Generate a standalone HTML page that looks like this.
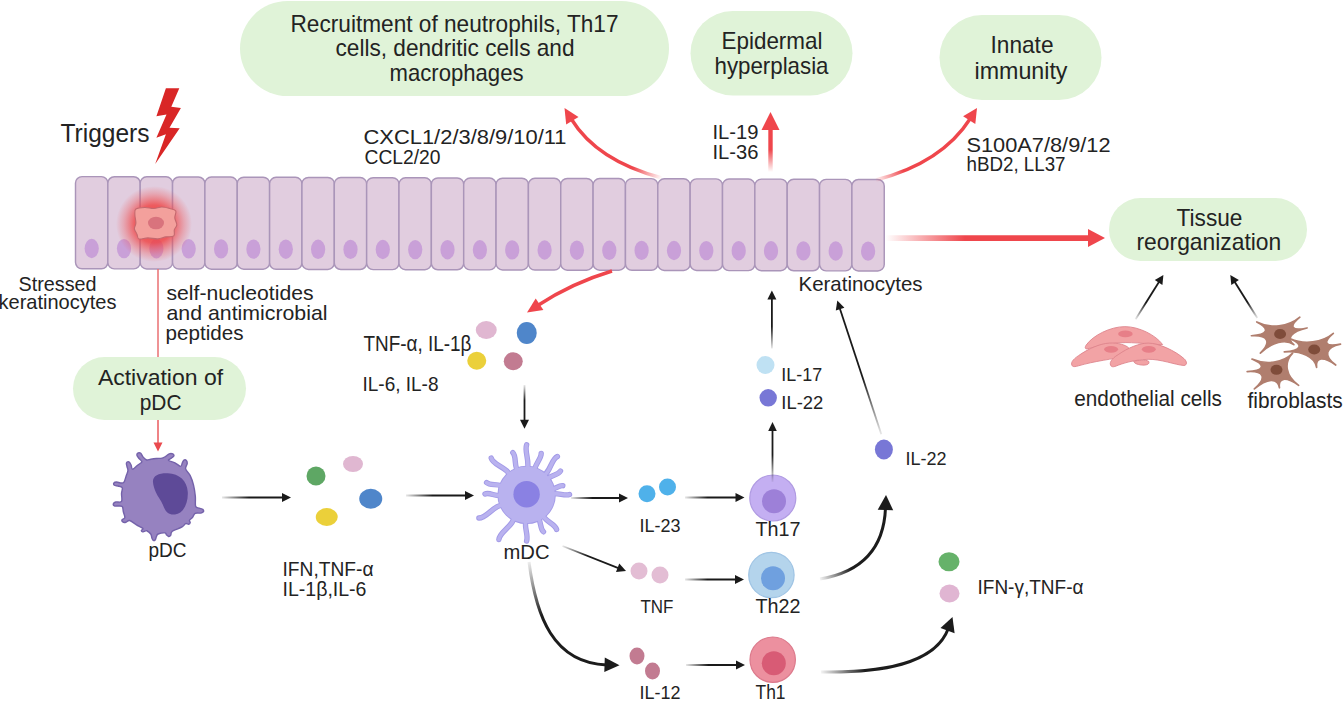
<!DOCTYPE html>
<html><head><meta charset="utf-8"><title>Psoriasis pathway</title>
<style>html,body{margin:0;padding:0;background:#fff;width:1344px;height:702px;overflow:hidden}svg{display:block}text{font-family:"Liberation Sans", sans-serif}</style>
</head><body>
<svg width="1344" height="702" viewBox="0 0 1344 702" font-family='"Liberation Sans", sans-serif'><defs><radialGradient id="glow"><stop offset="0" stop-color="#f03838" stop-opacity="1"/><stop offset="0.5" stop-color="#f04040" stop-opacity="0.8"/><stop offset="0.8" stop-color="#f05050" stop-opacity="0.3"/><stop offset="1" stop-color="#f05050" stop-opacity="0"/></radialGradient><linearGradient id="g1" gradientUnits="userSpaceOnUse" x1="662" y1="178" x2="600" y2="150"><stop offset="0" stop-color="#ef464c" stop-opacity="0"/><stop offset="0.45" stop-color="#ef464c" stop-opacity="1"/><stop offset="1" stop-color="#ef464c" stop-opacity="1"/></linearGradient><linearGradient id="g2" gradientUnits="userSpaceOnUse" x1="770.5" y1="172" x2="770.5" y2="140"><stop offset="0" stop-color="#ef464c" stop-opacity="0"/><stop offset="0.7" stop-color="#ef464c" stop-opacity="1"/><stop offset="1" stop-color="#ef464c" stop-opacity="1"/></linearGradient><linearGradient id="g3" gradientUnits="userSpaceOnUse" x1="874" y1="179" x2="930" y2="155"><stop offset="0" stop-color="#ef464c" stop-opacity="0"/><stop offset="0.5" stop-color="#ef464c" stop-opacity="1"/><stop offset="1" stop-color="#ef464c" stop-opacity="1"/></linearGradient><linearGradient id="g4" gradientUnits="userSpaceOnUse" x1="886" y1="238" x2="965" y2="238"><stop offset="0" stop-color="#ef464c" stop-opacity="0"/><stop offset="1" stop-color="#ef464c" stop-opacity="1"/></linearGradient><linearGradient id="g5" gradientUnits="userSpaceOnUse" x1="222" y1="497.5" x2="282.0" y2="497.5"><stop offset="0" stop-color="#1a1a1a" stop-opacity="0.1"/><stop offset="0.45" stop-color="#1a1a1a" stop-opacity="1"/><stop offset="1" stop-color="#1a1a1a" stop-opacity="1"/></linearGradient><linearGradient id="g6" gradientUnits="userSpaceOnUse" x1="406" y1="495.5" x2="465.0" y2="495.5"><stop offset="0" stop-color="#1a1a1a" stop-opacity="0.1"/><stop offset="0.45" stop-color="#1a1a1a" stop-opacity="1"/><stop offset="1" stop-color="#1a1a1a" stop-opacity="1"/></linearGradient><linearGradient id="g7" gradientUnits="userSpaceOnUse" x1="524.5" y1="385" x2="524.5" y2="419.75"><stop offset="0" stop-color="#1a1a1a" stop-opacity="0.1"/><stop offset="0.45" stop-color="#1a1a1a" stop-opacity="1"/><stop offset="1" stop-color="#1a1a1a" stop-opacity="1"/></linearGradient><linearGradient id="g8" gradientUnits="userSpaceOnUse" x1="571" y1="498" x2="619.0" y2="498.0"><stop offset="0" stop-color="#1a1a1a" stop-opacity="0.1"/><stop offset="0.45" stop-color="#1a1a1a" stop-opacity="1"/><stop offset="1" stop-color="#1a1a1a" stop-opacity="1"/></linearGradient><linearGradient id="g9" gradientUnits="userSpaceOnUse" x1="685" y1="497.5" x2="735.5" y2="497.5"><stop offset="0" stop-color="#1a1a1a" stop-opacity="0.1"/><stop offset="0.45" stop-color="#1a1a1a" stop-opacity="1"/><stop offset="1" stop-color="#1a1a1a" stop-opacity="1"/></linearGradient><linearGradient id="g10" gradientUnits="userSpaceOnUse" x1="562.5" y1="546" x2="617.6256432302473" y2="567.7030091457667"><stop offset="0" stop-color="#1a1a1a" stop-opacity="0.1"/><stop offset="0.45" stop-color="#1a1a1a" stop-opacity="1"/><stop offset="1" stop-color="#1a1a1a" stop-opacity="1"/></linearGradient><linearGradient id="g11" gradientUnits="userSpaceOnUse" x1="685" y1="579.5" x2="735.0" y2="579.5"><stop offset="0" stop-color="#1a1a1a" stop-opacity="0.1"/><stop offset="0.45" stop-color="#1a1a1a" stop-opacity="1"/><stop offset="1" stop-color="#1a1a1a" stop-opacity="1"/></linearGradient><linearGradient id="g12" gradientUnits="userSpaceOnUse" x1="686" y1="665" x2="736.0" y2="665.0"><stop offset="0" stop-color="#1a1a1a" stop-opacity="0.1"/><stop offset="0.45" stop-color="#1a1a1a" stop-opacity="1"/><stop offset="1" stop-color="#1a1a1a" stop-opacity="1"/></linearGradient><linearGradient id="g13" gradientUnits="userSpaceOnUse" x1="771.9" y1="348.5" x2="771.9" y2="299.5"><stop offset="0" stop-color="#1a1a1a" stop-opacity="0.1"/><stop offset="0.45" stop-color="#1a1a1a" stop-opacity="1"/><stop offset="1" stop-color="#1a1a1a" stop-opacity="1"/></linearGradient><linearGradient id="g14" gradientUnits="userSpaceOnUse" x1="881.3" y1="434.2" x2="840.1153189114561" y2="309.14833196751255"><stop offset="0" stop-color="#1a1a1a" stop-opacity="0.1"/><stop offset="0.45" stop-color="#1a1a1a" stop-opacity="1"/><stop offset="1" stop-color="#1a1a1a" stop-opacity="1"/></linearGradient><linearGradient id="g15" gradientUnits="userSpaceOnUse" x1="1135.6" y1="319.2" x2="1158.616096164475" y2="282.52327121991925"><stop offset="0" stop-color="#1a1a1a" stop-opacity="0.1"/><stop offset="0.45" stop-color="#1a1a1a" stop-opacity="1"/><stop offset="1" stop-color="#1a1a1a" stop-opacity="1"/></linearGradient><linearGradient id="g16" gradientUnits="userSpaceOnUse" x1="1257.3" y1="318.1" x2="1235.0699904600285" y2="282.5319847360458"><stop offset="0" stop-color="#1a1a1a" stop-opacity="0.1"/><stop offset="0.45" stop-color="#1a1a1a" stop-opacity="1"/><stop offset="1" stop-color="#1a1a1a" stop-opacity="1"/></linearGradient><linearGradient id="g17" gradientUnits="userSpaceOnUse" x1="529" y1="562" x2="575" y2="648"><stop offset="0" stop-color="#1c1c1c" stop-opacity="0.08"/><stop offset="0.55" stop-color="#1c1c1c" stop-opacity="1"/><stop offset="1" stop-color="#1c1c1c" stop-opacity="1"/></linearGradient><linearGradient id="g18" gradientUnits="userSpaceOnUse" x1="820" y1="579" x2="872" y2="552"><stop offset="0" stop-color="#1c1c1c" stop-opacity="0.05"/><stop offset="0.55" stop-color="#1c1c1c" stop-opacity="1"/><stop offset="1" stop-color="#1c1c1c" stop-opacity="1"/></linearGradient><linearGradient id="g19" gradientUnits="userSpaceOnUse" x1="821" y1="672" x2="900" y2="662"><stop offset="0" stop-color="#1c1c1c" stop-opacity="0.05"/><stop offset="0.55" stop-color="#1c1c1c" stop-opacity="1"/><stop offset="1" stop-color="#1c1c1c" stop-opacity="1"/></linearGradient><linearGradient id="g20" gradientUnits="userSpaceOnUse" x1="772.5" y1="482" x2="772.5" y2="455"><stop offset="0" stop-color="#1c1c1c" stop-opacity="0.05"/><stop offset="1" stop-color="#1c1c1c" stop-opacity="1"/></linearGradient></defs><rect x="240" y="1" width="429" height="95" rx="47.5" ry="47.5" fill="#e0f3d8"/><rect x="690.5" y="11" width="162.0" height="84.5" rx="42.25" ry="42.25" fill="#e0f3d8"/><rect x="939.5" y="15" width="162.0" height="85" rx="42.5" ry="42.5" fill="#e0f3d8"/><rect x="1109" y="198" width="198" height="63" rx="31.5" ry="31.5" fill="#e0f3d8"/><rect x="73" y="357" width="173" height="63" rx="31.5" ry="31.5" fill="#e0f3d8"/><rect x="75.50" y="176.60" width="32.35" height="92.20" rx="6.5" ry="6.5" fill="#e1cddf" stroke="#aa95b9" stroke-width="1.45"/><rect x="107.85" y="176.72" width="32.35" height="92.17" rx="6.5" ry="6.5" fill="#e1cddf" stroke="#aa95b9" stroke-width="1.45"/><rect x="140.20" y="176.84" width="32.35" height="92.14" rx="6.5" ry="6.5" fill="#e1cddf" stroke="#aa95b9" stroke-width="1.45"/><rect x="172.55" y="176.96" width="32.35" height="92.11" rx="6.5" ry="6.5" fill="#e1cddf" stroke="#aa95b9" stroke-width="1.45"/><rect x="204.90" y="177.08" width="32.35" height="92.08" rx="6.5" ry="6.5" fill="#e1cddf" stroke="#aa95b9" stroke-width="1.45"/><rect x="237.25" y="177.20" width="32.35" height="92.05" rx="6.5" ry="6.5" fill="#e1cddf" stroke="#aa95b9" stroke-width="1.45"/><rect x="269.60" y="177.32" width="32.35" height="92.02" rx="6.5" ry="6.5" fill="#e1cddf" stroke="#aa95b9" stroke-width="1.45"/><rect x="301.95" y="177.44" width="32.35" height="91.99" rx="6.5" ry="6.5" fill="#e1cddf" stroke="#aa95b9" stroke-width="1.45"/><rect x="334.30" y="177.56" width="32.35" height="91.96" rx="6.5" ry="6.5" fill="#e1cddf" stroke="#aa95b9" stroke-width="1.45"/><rect x="366.65" y="177.68" width="32.35" height="91.93" rx="6.5" ry="6.5" fill="#e1cddf" stroke="#aa95b9" stroke-width="1.45"/><rect x="399.00" y="177.80" width="32.35" height="91.90" rx="6.5" ry="6.5" fill="#e1cddf" stroke="#aa95b9" stroke-width="1.45"/><rect x="431.35" y="177.92" width="32.35" height="91.87" rx="6.5" ry="6.5" fill="#e1cddf" stroke="#aa95b9" stroke-width="1.45"/><rect x="463.70" y="178.04" width="32.35" height="91.84" rx="6.5" ry="6.5" fill="#e1cddf" stroke="#aa95b9" stroke-width="1.45"/><rect x="496.05" y="178.16" width="32.35" height="91.81" rx="6.5" ry="6.5" fill="#e1cddf" stroke="#aa95b9" stroke-width="1.45"/><rect x="528.40" y="178.28" width="32.35" height="91.78" rx="6.5" ry="6.5" fill="#e1cddf" stroke="#aa95b9" stroke-width="1.45"/><rect x="560.75" y="178.40" width="32.35" height="91.75" rx="6.5" ry="6.5" fill="#e1cddf" stroke="#aa95b9" stroke-width="1.45"/><rect x="593.10" y="178.52" width="32.35" height="91.72" rx="6.5" ry="6.5" fill="#e1cddf" stroke="#aa95b9" stroke-width="1.45"/><rect x="625.45" y="178.64" width="32.35" height="91.69" rx="6.5" ry="6.5" fill="#e1cddf" stroke="#aa95b9" stroke-width="1.45"/><rect x="657.80" y="178.76" width="32.35" height="91.66" rx="6.5" ry="6.5" fill="#e1cddf" stroke="#aa95b9" stroke-width="1.45"/><rect x="690.15" y="178.88" width="32.35" height="91.63" rx="6.5" ry="6.5" fill="#e1cddf" stroke="#aa95b9" stroke-width="1.45"/><rect x="722.50" y="179.00" width="32.35" height="91.60" rx="6.5" ry="6.5" fill="#e1cddf" stroke="#aa95b9" stroke-width="1.45"/><rect x="754.85" y="179.12" width="32.35" height="91.57" rx="6.5" ry="6.5" fill="#e1cddf" stroke="#aa95b9" stroke-width="1.45"/><rect x="787.20" y="179.24" width="32.35" height="91.54" rx="6.5" ry="6.5" fill="#e1cddf" stroke="#aa95b9" stroke-width="1.45"/><rect x="819.55" y="179.36" width="32.35" height="91.51" rx="6.5" ry="6.5" fill="#e1cddf" stroke="#aa95b9" stroke-width="1.45"/><rect x="851.90" y="179.48" width="32.35" height="91.48" rx="6.5" ry="6.5" fill="#e1cddf" stroke="#aa95b9" stroke-width="1.45"/><ellipse cx="91.7" cy="248.5" rx="7.1" ry="9.7" fill="#c9a0d8"/><ellipse cx="124.0" cy="248.6" rx="7.1" ry="9.7" fill="#c9a0d8"/><ellipse cx="156.4" cy="248.7" rx="7.1" ry="9.7" fill="#c9a0d8"/><ellipse cx="188.7" cy="248.8" rx="7.1" ry="9.7" fill="#c9a0d8"/><ellipse cx="221.1" cy="248.9" rx="7.1" ry="9.7" fill="#c9a0d8"/><ellipse cx="253.4" cy="249.1" rx="7.1" ry="9.7" fill="#c9a0d8"/><ellipse cx="285.8" cy="249.2" rx="7.1" ry="9.7" fill="#c9a0d8"/><ellipse cx="318.1" cy="249.3" rx="7.1" ry="9.7" fill="#c9a0d8"/><ellipse cx="350.5" cy="249.4" rx="7.1" ry="9.7" fill="#c9a0d8"/><ellipse cx="382.8" cy="249.5" rx="7.1" ry="9.7" fill="#c9a0d8"/><ellipse cx="415.2" cy="249.6" rx="7.1" ry="9.7" fill="#c9a0d8"/><ellipse cx="447.5" cy="249.7" rx="7.1" ry="9.7" fill="#c9a0d8"/><ellipse cx="479.9" cy="249.8" rx="7.1" ry="9.7" fill="#c9a0d8"/><ellipse cx="512.2" cy="249.9" rx="7.1" ry="9.7" fill="#c9a0d8"/><ellipse cx="544.6" cy="250.0" rx="7.1" ry="9.7" fill="#c9a0d8"/><ellipse cx="576.9" cy="250.2" rx="7.1" ry="9.7" fill="#c9a0d8"/><ellipse cx="609.3" cy="250.3" rx="7.1" ry="9.7" fill="#c9a0d8"/><ellipse cx="641.6" cy="250.4" rx="7.1" ry="9.7" fill="#c9a0d8"/><ellipse cx="674.0" cy="250.5" rx="7.1" ry="9.7" fill="#c9a0d8"/><ellipse cx="706.3" cy="250.6" rx="7.1" ry="9.7" fill="#c9a0d8"/><ellipse cx="738.7" cy="250.7" rx="7.1" ry="9.7" fill="#c9a0d8"/><ellipse cx="771.0" cy="250.8" rx="7.1" ry="9.7" fill="#c9a0d8"/><ellipse cx="803.4" cy="250.9" rx="7.1" ry="9.7" fill="#c9a0d8"/><ellipse cx="835.7" cy="251.0" rx="7.1" ry="9.7" fill="#c9a0d8"/><ellipse cx="868.1" cy="251.1" rx="7.1" ry="9.7" fill="#c9a0d8"/><circle cx="154" cy="224" r="38" fill="url(#glow)"/><path d="M135.9,209 C137.6,207.8 141.9,207.6 144.9,207.5 C147.9,207.4 151.0,208.6 153.8,208.5 C156.6,208.4 159.1,207.0 161.8,207 C164.5,207.0 167.5,207.8 169.8,208.5 C172.1,209.2 175.0,209.4 175.8,211 C176.6,212.6 174.6,215.6 174.8,217.9 C175.0,220.2 176.9,222.9 176.8,224.9 C176.7,226.9 174.8,228.1 174.3,229.9 C173.8,231.7 175.2,234.7 173.8,235.9 C172.4,237.1 168.5,236.4 165.8,236.9 C163.1,237.4 160.8,238.7 157.8,238.9 C154.8,239.1 151.1,237.9 147.9,237.9 C144.8,237.9 140.7,239.6 138.9,238.9 C137.1,238.2 137.7,235.6 136.9,233.9 C136.2,232.2 134.6,230.7 134.4,228.9 C134.2,227.1 135.8,225.2 135.9,222.9 C136.0,220.6 134.9,217.2 134.9,214.9 C134.9,212.6 134.2,210.2 135.9,209 Z" fill="#f3a09c" stroke="#c4686e" stroke-width="1.1"/><ellipse cx="156" cy="223" rx="8" ry="6.3" fill="#d9737d"/><path d="M165.9,88.2 L179.3,88.2 L171.3,106.7 L180.9,107.9 L169.5,127.7 L179.7,128.3 L155.2,164.1 L165.9,134.2 L156.4,137.8 L166.5,114.5 L156.4,116.3 Z" fill="#d92626"/><path d="M662,178 Q597,161 571.2,118.9" fill="none" stroke="url(#g1)" stroke-width="3.6"/><path d="M564.5,108.0 L578.5,117.0 L566.2,124.6 Z" fill="#ef464c"/><line x1="770.5" y1="172" x2="770.5" y2="128" stroke="url(#g2)" stroke-width="4.4"/><path d="M770.5,112.0 L779.5,130.0 L761.5,130.0 Z" fill="#ef464c"/><path d="M876,180 Q942,163 970.4,118.4" fill="none" stroke="url(#g3)" stroke-width="3.6"/><path d="M977.0,108.0 L975.3,124.1 L963.1,116.3 Z" fill="#ef464c"/><line x1="886" y1="238.1" x2="1090" y2="238.1" stroke="url(#g4)" stroke-width="5.8"/><path d="M1105.0,238.1 L1088.0,247.1 L1088.0,229.1 Z" fill="#ef464c"/><path d="M612,271 Q572,283 537.7,305.5" fill="none" stroke="#ef464c" stroke-width="3.4"/><path d="M527.0,312.5 L535.7,298.4 L543.4,310.1 Z" fill="#ef464c"/><line x1="158" y1="269" x2="158" y2="357" stroke="#ea6f72" stroke-width="1.5"/><line x1="158" y1="420" x2="158" y2="443" stroke="#ea5a5e" stroke-width="1.5"/><path d="M158.0,451.5 L153.5,442.5 L162.5,442.5 Z" fill="#ea4a4e"/><path d="M291.0,497.5 L282.0,502.0 L282.0,493.0 Z" fill="#1a1a1a"/><line x1="222" y1="497.5" x2="283.5" y2="497.5" stroke="url(#g5)" stroke-width="1.8"/><path d="M474.0,495.5 L465.0,500.0 L465.0,491.0 Z" fill="#1a1a1a"/><line x1="406" y1="495.5" x2="466.5" y2="495.5" stroke="url(#g6)" stroke-width="1.8"/><path d="M524.5,428.8 L520.0,419.8 L529.0,419.8 Z" fill="#1a1a1a"/><line x1="524.5" y1="385" x2="524.5" y2="421.2" stroke="url(#g7)" stroke-width="1.8"/><path d="M628.0,498.0 L619.0,502.5 L619.0,493.5 Z" fill="#1a1a1a"/><line x1="571" y1="498" x2="620.5" y2="498.0" stroke="url(#g8)" stroke-width="1.8"/><path d="M744.5,497.5 L735.5,502.0 L735.5,493.0 Z" fill="#1a1a1a"/><line x1="685" y1="497.5" x2="737.0" y2="497.5" stroke="url(#g9)" stroke-width="1.8"/><path d="M626.0,571.0 L616.0,571.9 L619.3,563.5 Z" fill="#1a1a1a"/><line x1="562.5" y1="546" x2="619.0" y2="568.3" stroke="url(#g10)" stroke-width="1.8"/><path d="M744.0,579.5 L735.0,584.0 L735.0,575.0 Z" fill="#1a1a1a"/><line x1="685" y1="579.5" x2="736.5" y2="579.5" stroke="url(#g11)" stroke-width="1.8"/><path d="M745.0,665.0 L736.0,669.5 L736.0,660.5 Z" fill="#1a1a1a"/><line x1="686" y1="665" x2="737.5" y2="665.0" stroke="url(#g12)" stroke-width="1.8"/><path d="M771.9,290.5 L776.4,299.5 L767.4,299.5 Z" fill="#1a1a1a"/><line x1="771.9" y1="348.5" x2="771.9" y2="298.0" stroke="url(#g13)" stroke-width="1.8"/><path d="M837.3,300.6 L844.4,307.7 L835.8,310.6 Z" fill="#1a1a1a"/><line x1="881.3" y1="434.2" x2="839.6" y2="307.7" stroke="url(#g14)" stroke-width="1.8"/><path d="M1163.4,274.9 L1162.4,284.9 L1154.8,280.1 Z" fill="#1a1a1a"/><line x1="1135.6" y1="319.2" x2="1159.4" y2="281.3" stroke="url(#g15)" stroke-width="1.8"/><path d="M1230.3,274.9 L1238.9,280.1 L1231.3,284.9 Z" fill="#1a1a1a"/><line x1="1257.3" y1="318.1" x2="1234.3" y2="281.3" stroke="url(#g16)" stroke-width="1.8"/><path d="M529,562 C536,616 553,663 606.8,664.9" fill="none" stroke="url(#g17)" stroke-width="3"/><path d="M619.5,665.3 L604.3,672.0 L604.8,657.5 Z" fill="#1c1c1c"/><path d="M820,579 C862,572 884,548 885.5,507.7" fill="none" stroke="url(#g18)" stroke-width="3"/><path d="M886.0,495.0 L893.2,510.3 L877.7,509.7 Z" fill="#1c1c1c"/><path d="M821,672 C880,673 935,665 948.3,628.6" fill="none" stroke="url(#g19)" stroke-width="3"/><path d="M952.5,617.0 L954.6,633.2 L940.5,628.1 Z" fill="#1c1c1c"/><ellipse cx="316" cy="476" rx="9.5" ry="9.5" fill="#5ea764"/><ellipse cx="353" cy="464" rx="10" ry="8" fill="#e0b7d1"/><ellipse cx="370.75" cy="498.75" rx="11.5" ry="10" fill="#4f86ca"/><ellipse cx="326.75" cy="517" rx="11" ry="9" fill="#ebd03a"/><ellipse cx="486.25" cy="330" rx="10.5" ry="9" fill="#e0b7d1"/><ellipse cx="526.75" cy="333" rx="10" ry="11" fill="#4f86ca"/><ellipse cx="476.75" cy="360.75" rx="9.5" ry="9" fill="#ebd03a"/><ellipse cx="513.25" cy="361.25" rx="9.5" ry="9" fill="#c27b91"/><ellipse cx="647" cy="493.75" rx="8.5" ry="8.5" fill="#4fb1ea"/><ellipse cx="667.5" cy="487" rx="8.5" ry="8.5" fill="#4fb1ea"/><ellipse cx="639" cy="571" rx="8.5" ry="8.5" fill="#e3bdd4"/><ellipse cx="660" cy="575" rx="8.5" ry="8.5" fill="#e3bdd4"/><ellipse cx="637" cy="656" rx="7.5" ry="8.5" fill="#c27b91"/><ellipse cx="652.5" cy="671" rx="7.5" ry="8.5" fill="#c27b91"/><ellipse cx="765.5" cy="365" rx="9" ry="9" fill="#bfe1f3"/><ellipse cx="768.2" cy="397.8" rx="8.7" ry="8.7" fill="#7877d6"/><ellipse cx="883.9" cy="449.5" rx="9" ry="10" fill="#7877d6"/><ellipse cx="949" cy="561.75" rx="10.5" ry="9.5" fill="#66b26a"/><ellipse cx="949.5" cy="593.5" rx="10" ry="9" fill="#e0b5d2"/><circle cx="772.8" cy="498" r="23" fill="#c4aff2" stroke="#b09be2" stroke-width="1.2"/><circle cx="774" cy="501.3" r="12" fill="#9d80d8"/><line x1="772.5" y1="482" x2="772.5" y2="430" stroke="url(#g20)" stroke-width="1.8"/><path d="M772.5,422.0 L776.8,431.0 L768.2,431.0 Z" fill="#1c1c1c"/><circle cx="771.4" cy="575" r="22.7" fill="#b4d4ec" stroke="#9fc4e4" stroke-width="1.2"/><circle cx="773" cy="578.3" r="12" fill="#6fa0df"/><circle cx="772.7" cy="659.7" r="22.7" fill="#ec909f" stroke="#dc7a8c" stroke-width="1.2"/><circle cx="773.8" cy="663.2" r="12" fill="#d85b75"/><g transform="translate(108 445) scale(0.14245)"><path d="M300,100 C311.3,98.3 326.7,96.3 340,95 C353.3,93.7 369.2,94.5 380,92 C390.8,89.5 396.7,85.0 405,80 C413.3,75.0 421.7,64.8 430,62 C438.3,59.2 449.7,60.3 455,63 C460.3,65.7 463.7,73.2 462,78 C460.3,82.8 451.2,87.0 445,92 C438.8,97.0 420.8,102.5 425,108 C429.2,113.5 455.8,118.0 470,125 C484.2,132.0 501.3,150.0 510,150 C518.7,150.0 518.2,132.3 522,125 C525.8,117.7 528.3,108.8 533,106 C537.7,103.2 546.2,104.0 550,108 C553.8,112.0 556.8,120.0 556,130 C555.2,140.0 541.5,153.8 545,168 C548.5,182.2 567.8,196.3 577,215 C586.2,233.7 594.0,255.8 600,280 C606.0,304.2 610.5,335.0 613,360 C615.5,385.0 610.5,416.2 615,430 C619.5,443.8 631.7,439.3 640,443 C648.3,446.7 660.0,447.8 665,452 C670.0,456.2 672.2,463.7 670,468 C667.8,472.3 661.7,476.0 652,478 C642.3,480.0 622.0,474.7 612,480 C602.0,485.3 598.7,502.0 592,510 C585.3,518.0 574.5,522.2 572,528 C569.5,533.8 578.0,540.3 577,545 C576.0,549.7 571.3,554.8 566,556 C560.7,557.2 552.7,548.8 545,552 C537.3,555.2 533.8,567.0 520,575 C506.2,583.0 474.5,593.7 462,600 C449.5,606.3 448.7,607.2 445,613 C441.3,618.8 443.3,630.2 440,635 C436.7,639.8 430.0,642.8 425,642 C420.0,641.2 414.2,634.2 410,630 C405.8,625.8 409.7,617.8 400,617 C390.3,616.2 362.0,620.8 352,625 C342.0,629.2 343.3,635.3 340,642 C336.7,648.7 335.7,660.3 332,665 C328.3,669.7 322.0,672.2 318,670 C314.0,667.8 311.0,659.5 308,652 C305.0,644.5 306.0,633.3 300,625 C294.0,616.7 279.5,605.2 272,602 C264.5,598.8 259.8,604.7 255,606 C250.2,607.3 246.5,611.0 243,610 C239.5,609.0 233.8,604.2 234,600 C234.2,595.8 249.7,591.7 244,585 C238.3,578.3 215.3,569.2 200,560 C184.7,550.8 164.3,533.0 152,530 C139.7,527.0 133.7,540.0 126,542 C118.3,544.0 110.7,544.7 106,542 C101.3,539.3 96.0,531.3 98,526 C100.0,520.7 116.3,519.3 118,510 C119.7,500.7 111.0,483.0 108,470 C105.0,457.0 106.3,439.0 100,432 C93.7,425.0 79.2,428.7 70,428 C60.8,427.3 50.3,430.7 45,428 C39.7,425.3 36.3,416.7 38,412 C39.7,407.3 45.5,402.7 55,400 C64.5,397.3 88.3,406.0 95,396 C101.7,386.0 94.2,356.0 95,340 C95.8,324.0 104.2,308.7 100,300 C95.8,291.3 79.2,290.8 70,288 C60.8,285.2 49.7,286.7 45,283 C40.3,279.3 39.5,269.8 42,266 C44.5,262.2 49.0,260.2 60,260 C71.0,259.8 96.7,272.5 108,265 C119.3,257.5 122.7,229.2 128,215 C133.3,200.8 139.2,190.8 140,180 C140.8,169.2 134.7,159.0 133,150 C131.3,141.0 127.7,131.3 130,126 C132.3,120.7 141.7,115.7 147,118 C152.3,120.3 157.8,131.3 162,140 C166.2,148.7 164.0,170.0 172,170 C180.0,170.0 199.0,148.7 210,140 C221.0,131.3 236.7,125.5 238,118 C239.3,110.5 223.8,102.7 218,95 C212.2,87.3 204.0,78.5 203,72 C202.0,65.5 207.5,58.3 212,56 C216.5,53.7 224.2,53.2 230,58 C235.8,62.8 240.0,77.2 247,85 C254.0,92.8 263.2,102.5 272,105 C280.8,107.5 288.7,101.7 300,100 Z" fill="#9682c0" stroke="#7462aa" stroke-width="10" stroke-linejoin="round"/><path d="M316,262 C310,215 360,195 420,198 C500,202 556,250 560,330 C564,410 530,480 470,488 C420,494 400,460 385,420 C372,385 350,365 335,330 C325,305 318,285 316,262 Z" fill="#5e4a98"/></g><path d="M512.8,480.5 C508.0,465.6 493.6,466.5 491.2,458.0" fill="none" stroke="#a29ae7" stroke-width="5.4" stroke-linecap="round"/><path d="M520.4,475.9 C512.3,466.9 517.5,457.5 512.8,452.6" fill="none" stroke="#a29ae7" stroke-width="5.4" stroke-linecap="round"/><path d="M526.6,474.9 C531.1,461.4 523.9,452.4 526.6,444.9" fill="none" stroke="#a29ae7" stroke-width="5.4" stroke-linecap="round"/><path d="M533.2,476.0 C533.4,464.7 541.2,459.8 541.2,453.4" fill="none" stroke="#a29ae7" stroke-width="5.4" stroke-linecap="round"/><path d="M539.1,479.3 C551.9,472.7 550.1,460.0 557.4,456.5" fill="none" stroke="#a29ae7" stroke-width="5.4" stroke-linecap="round"/><path d="M542.9,483.4 C548.4,474.3 557.6,476.2 560.5,471.0" fill="none" stroke="#a29ae7" stroke-width="5.4" stroke-linecap="round"/><path d="M546.0,490.0 C554.4,491.4 558.1,484.8 562.8,485.7" fill="none" stroke="#a29ae7" stroke-width="5.4" stroke-linecap="round"/><path d="M546.6,494.7 C556.9,491.2 563.8,496.6 569.5,494.5" fill="none" stroke="#a29ae7" stroke-width="5.4" stroke-linecap="round"/><path d="M539.7,510.0 C543.4,522.2 554.7,522.6 556.6,529.5" fill="none" stroke="#a29ae7" stroke-width="5.4" stroke-linecap="round"/><path d="M534.9,513.1 C542.5,519.8 539.1,528.1 543.5,531.8" fill="none" stroke="#a29ae7" stroke-width="5.4" stroke-linecap="round"/><path d="M526.6,514.9 C522.7,526.6 528.9,534.5 526.6,541.0" fill="none" stroke="#a29ae7" stroke-width="5.4" stroke-linecap="round"/><path d="M516.0,511.9 C513.9,527.7 499.9,530.5 498.9,539.5" fill="none" stroke="#a29ae7" stroke-width="5.4" stroke-linecap="round"/><path d="M508.6,503.6 C492.4,504.1 488.1,518.0 478.9,518.0" fill="none" stroke="#a29ae7" stroke-width="5.4" stroke-linecap="round"/><path d="M506.6,494.5 C496.8,498.6 490.5,491.5 485.0,494.0" fill="none" stroke="#a29ae7" stroke-width="5.4" stroke-linecap="round"/><path d="M507.5,489.0 C499.4,482.0 491.1,486.7 486.6,482.6" fill="none" stroke="#a29ae7" stroke-width="5.4" stroke-linecap="round"/><circle cx="526.6" cy="494.9" r="29.2" fill="#a29ae7"/><path d="M512.8,480.5 C508.0,465.6 493.6,466.5 491.2,458.0" fill="none" stroke="#b9b2ef" stroke-width="3.6" stroke-linecap="round"/><path d="M520.4,475.9 C512.3,466.9 517.5,457.5 512.8,452.6" fill="none" stroke="#b9b2ef" stroke-width="3.6" stroke-linecap="round"/><path d="M526.6,474.9 C531.1,461.4 523.9,452.4 526.6,444.9" fill="none" stroke="#b9b2ef" stroke-width="3.6" stroke-linecap="round"/><path d="M533.2,476.0 C533.4,464.7 541.2,459.8 541.2,453.4" fill="none" stroke="#b9b2ef" stroke-width="3.6" stroke-linecap="round"/><path d="M539.1,479.3 C551.9,472.7 550.1,460.0 557.4,456.5" fill="none" stroke="#b9b2ef" stroke-width="3.6" stroke-linecap="round"/><path d="M542.9,483.4 C548.4,474.3 557.6,476.2 560.5,471.0" fill="none" stroke="#b9b2ef" stroke-width="3.6" stroke-linecap="round"/><path d="M546.0,490.0 C554.4,491.4 558.1,484.8 562.8,485.7" fill="none" stroke="#b9b2ef" stroke-width="3.6" stroke-linecap="round"/><path d="M546.6,494.7 C556.9,491.2 563.8,496.6 569.5,494.5" fill="none" stroke="#b9b2ef" stroke-width="3.6" stroke-linecap="round"/><path d="M539.7,510.0 C543.4,522.2 554.7,522.6 556.6,529.5" fill="none" stroke="#b9b2ef" stroke-width="3.6" stroke-linecap="round"/><path d="M534.9,513.1 C542.5,519.8 539.1,528.1 543.5,531.8" fill="none" stroke="#b9b2ef" stroke-width="3.6" stroke-linecap="round"/><path d="M526.6,514.9 C522.7,526.6 528.9,534.5 526.6,541.0" fill="none" stroke="#b9b2ef" stroke-width="3.6" stroke-linecap="round"/><path d="M516.0,511.9 C513.9,527.7 499.9,530.5 498.9,539.5" fill="none" stroke="#b9b2ef" stroke-width="3.6" stroke-linecap="round"/><path d="M508.6,503.6 C492.4,504.1 488.1,518.0 478.9,518.0" fill="none" stroke="#b9b2ef" stroke-width="3.6" stroke-linecap="round"/><path d="M506.6,494.5 C496.8,498.6 490.5,491.5 485.0,494.0" fill="none" stroke="#b9b2ef" stroke-width="3.6" stroke-linecap="round"/><path d="M507.5,489.0 C499.4,482.0 491.1,486.7 486.6,482.6" fill="none" stroke="#b9b2ef" stroke-width="3.6" stroke-linecap="round"/><circle cx="526.6" cy="494.9" r="28.3" fill="#b9b2ef"/><circle cx="526.6" cy="494.2" r="13.2" fill="#8a81e3"/><g transform="translate(1064 316) scale(0.0967)"><path d="M230,300 C300,200 480,110 630,110 C780,110 950,200 1020,295 C960,300 800,275 640,275 C480,275 320,320 240,340 C215,345 215,320 230,300 Z" fill="#f2a3a5" stroke="#dc828a" stroke-width="9"/><ellipse cx="635" cy="185" rx="75" ry="35" fill="#e77f88"/><path d="M720,470 C760,455 850,450 875,468 C892,500 850,512 800,507 C760,502 730,492 720,470 Z" fill="#f2a3a5" stroke="#dc828a" stroke-width="9"/><path d="M90,520 C60,490 90,450 150,410 C250,340 370,285 470,280 C560,275 640,300 670,330 L640,420 C520,440 300,470 150,515 C120,525 100,525 90,520 Z" fill="#f2a3a5" stroke="#dc828a" stroke-width="9"/><ellipse cx="487" cy="345" rx="72" ry="35" fill="#e77f88"/><path d="M490,520 C460,490 490,440 560,400 C660,330 780,280 870,280 C980,280 1150,360 1240,440 C1275,470 1275,510 1240,512 C1150,505 1000,445 870,448 C720,452 600,492 540,517 C520,525 500,528 490,520 Z" fill="#f2a3a5" stroke="#dc828a" stroke-width="9"/><ellipse cx="877" cy="345" rx="72" ry="35" fill="#e77f88"/></g><g transform="translate(1240 310) scale(0.11967)"><path d="M140,100 C253,158 404,141 500,60 C404,141 430,179 560,150 C430,179 383,238 450,290 C383,238 266,267 170,360 C266,267 234,206 95,215 C234,206 253,158 140,100 Z" fill="#b07e6e" stroke="#b07e6e" stroke-width="14" stroke-linejoin="round"/><path d="M420,240 C536,292 687,273 780,195 C687,273 712,311 840,285 C712,311 696,385 800,460 C696,385 628,393 640,480 C628,393 515,338 370,350 C515,338 536,292 420,240 Z" fill="#b07e6e" stroke="#b07e6e" stroke-width="14" stroke-linejoin="round"/><path d="M100,410 C219,462 362,441 440,360 C362,441 383,555 490,630 C383,555 316,563 330,650 C316,563 227,567 120,660 C227,567 202,506 60,515 C202,506 219,462 100,410 Z" fill="#b07e6e" stroke="#b07e6e" stroke-width="14" stroke-linejoin="round"/><ellipse cx="335" cy="200" rx="50" ry="42" fill="#7f4c3a"/><ellipse cx="620" cy="330" rx="50" ry="42" fill="#7f4c3a"/><ellipse cx="305" cy="500" rx="50" ry="42" fill="#7f4c3a"/></g><text x="290.5" y="31.8" font-size="23.4" text-anchor="start" fill="#232323" textLength="328.0" lengthAdjust="spacingAndGlyphs">Recruitment of neutrophils, Th17</text><text x="335.5" y="56.25" font-size="23.4" text-anchor="start" fill="#232323" textLength="239.0" lengthAdjust="spacingAndGlyphs">cells, dendritic cells and</text><text x="389.5" y="81.25" font-size="23.4" text-anchor="start" fill="#232323" textLength="134.0" lengthAdjust="spacingAndGlyphs">macrophages</text><text x="721.5" y="49.0" font-size="23.4" text-anchor="start" fill="#232323" textLength="101.0" lengthAdjust="spacingAndGlyphs">Epidermal</text><text x="714.5" y="74.0" font-size="23.4" text-anchor="start" fill="#232323" textLength="114.0" lengthAdjust="spacingAndGlyphs">hyperplasia</text><text x="990.5" y="53.0" font-size="23.4" text-anchor="start" fill="#232323" textLength="63.0" lengthAdjust="spacingAndGlyphs">Innate</text><text x="974.5" y="78.5" font-size="23.4" text-anchor="start" fill="#232323" textLength="93.0" lengthAdjust="spacingAndGlyphs">immunity</text><text x="60.5" y="141.5" font-size="26.6" text-anchor="start" fill="#232323" textLength="89.0" lengthAdjust="spacingAndGlyphs">Triggers</text><text x="363.5" y="144.25" font-size="20.7" text-anchor="start" fill="#232323" textLength="203.0" lengthAdjust="spacingAndGlyphs">CXCL1/2/3/8/9/10/11</text><text x="364.5" y="164.25" font-size="20.7" text-anchor="start" fill="#232323" textLength="76.0" lengthAdjust="spacingAndGlyphs">CCL2/20</text><text x="712.5" y="138.5" font-size="20.7" text-anchor="start" fill="#232323" textLength="46.0" lengthAdjust="spacingAndGlyphs">IL-19</text><text x="712.5" y="158.5" font-size="20.7" text-anchor="start" fill="#232323" textLength="46.0" lengthAdjust="spacingAndGlyphs">IL-36</text><text x="966.5" y="151.75" font-size="20.7" text-anchor="start" fill="#232323" textLength="144.0" lengthAdjust="spacingAndGlyphs">S100A7/8/9/12</text><text x="966.5" y="171.25" font-size="20.7" text-anchor="start" fill="#232323" textLength="99.0" lengthAdjust="spacingAndGlyphs">hBD2, LL37</text><text x="1176.5" y="225.5" font-size="23.4" text-anchor="start" fill="#232323" textLength="66.0" lengthAdjust="spacingAndGlyphs">Tissue</text><text x="1136.5" y="250.25" font-size="23.4" text-anchor="start" fill="#232323" textLength="144.8" lengthAdjust="spacingAndGlyphs">reorganization</text><text x="18.5" y="290.5" font-size="20.7" text-anchor="start" fill="#232323" textLength="78.0" lengthAdjust="spacingAndGlyphs">Stressed</text><text x="-1.5" y="309.25" font-size="20.7" text-anchor="start" fill="#232323" textLength="118.0" lengthAdjust="spacingAndGlyphs">keratinocytes</text><text x="166.5" y="299.5" font-size="20.7" text-anchor="start" fill="#232323" textLength="147.0" lengthAdjust="spacingAndGlyphs">self-nucleotides</text><text x="166.5" y="319.8" font-size="20.7" text-anchor="start" fill="#232323" textLength="161.0" lengthAdjust="spacingAndGlyphs">and antimicrobial</text><text x="165.5" y="339.7" font-size="20.7" text-anchor="start" fill="#232323" textLength="78.0" lengthAdjust="spacingAndGlyphs">peptides</text><text x="798.5" y="291.0" font-size="20.7" text-anchor="start" fill="#232323" textLength="124.0" lengthAdjust="spacingAndGlyphs">Keratinocytes</text><text x="97.9" y="384.5" font-size="22.9" text-anchor="start" fill="#232323" textLength="125.2" lengthAdjust="spacingAndGlyphs">Activation of</text><text x="139.7" y="409.5" font-size="22.9" text-anchor="start" fill="#232323" textLength="41.8" lengthAdjust="spacingAndGlyphs">pDC</text><text x="363.5" y="350.5" font-size="21.3" text-anchor="start" fill="#232323" textLength="108.0" lengthAdjust="spacingAndGlyphs">TNF-α, IL-1β</text><text x="362.5" y="391.0" font-size="20.7" text-anchor="start" fill="#232323" textLength="76.0" lengthAdjust="spacingAndGlyphs">IL-6, IL-8</text><text x="781.3" y="380.5" font-size="18.5" text-anchor="start" fill="#232323" textLength="40.8" lengthAdjust="spacingAndGlyphs">IL-17</text><text x="781.3" y="408.8" font-size="18.5" text-anchor="start" fill="#232323" textLength="42.0" lengthAdjust="spacingAndGlyphs">IL-22</text><text x="905.5" y="465.0" font-size="18.5" text-anchor="start" fill="#232323" textLength="41.0" lengthAdjust="spacingAndGlyphs">IL-22</text><text x="1074.3" y="406.4" font-size="21.8" text-anchor="start" fill="#232323" textLength="147.6" lengthAdjust="spacingAndGlyphs">endothelial cells</text><text x="1247.5" y="407.9" font-size="21.8" text-anchor="start" fill="#232323" textLength="95.2" lengthAdjust="spacingAndGlyphs">fibroblasts</text><text x="148.5" y="556.5" font-size="19.6" text-anchor="start" fill="#232323" textLength="38.0" lengthAdjust="spacingAndGlyphs">pDC</text><text x="282.5" y="575.5" font-size="19.6" text-anchor="start" fill="#232323" textLength="91.0" lengthAdjust="spacingAndGlyphs">IFN,TNF-α</text><text x="282.5" y="596.0" font-size="19.6" text-anchor="start" fill="#232323" textLength="84.0" lengthAdjust="spacingAndGlyphs">IL-1β,IL-6</text><text x="503.5" y="558.5" font-size="19.6" text-anchor="start" fill="#232323" textLength="46.0" lengthAdjust="spacingAndGlyphs">mDC</text><text x="639.5" y="531.5" font-size="18.0" text-anchor="start" fill="#232323" textLength="41.0" lengthAdjust="spacingAndGlyphs">IL-23</text><text x="755.5" y="536.25" font-size="20.2" text-anchor="start" fill="#232323" textLength="45.0" lengthAdjust="spacingAndGlyphs">Th17</text><text x="640.5" y="612.5" font-size="18.0" text-anchor="start" fill="#232323" textLength="33.0" lengthAdjust="spacingAndGlyphs">TNF</text><text x="755.5" y="612.5" font-size="20.2" text-anchor="start" fill="#232323" textLength="45.0" lengthAdjust="spacingAndGlyphs">Th22</text><text x="639.5" y="699.0" font-size="18.0" text-anchor="start" fill="#232323" textLength="41.0" lengthAdjust="spacingAndGlyphs">IL-12</text><text x="755.5" y="699.0" font-size="20.2" text-anchor="start" fill="#232323" textLength="30.0" lengthAdjust="spacingAndGlyphs">Th1</text><text x="977.5" y="594.0" font-size="20.2" text-anchor="start" fill="#232323" textLength="106.0" lengthAdjust="spacingAndGlyphs">IFN-γ,TNF-α</text></svg>
</body></html>
